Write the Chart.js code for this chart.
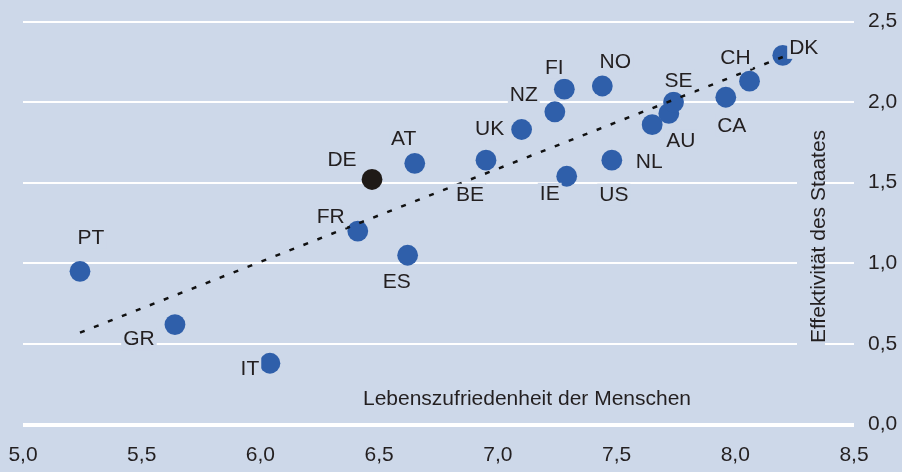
<!DOCTYPE html>
<html>
  <head>
    <meta charset="utf-8" />
    <script src="https://cdn.jsdelivr.net/npm/chart.js"></script>
    <style>
      body {
        margin: 0;
        background: #cdd8e9;
      }
    </style>
  </head>
  <body>
    <canvas id="scatterChart" width="902" height="472"></canvas>
    <script>
      // values
      const countries = ["PT", "GR", "IT", "ES", "FR", "DE", "AT", "BE", "UK", "NZ",
        "FI", "IE", "NO", "US", "NL", "AU", "SE", "CA", "CH", "DK"];
      const lifeSatisfaction = [5.24, 5.64, 6.04, 6.62, 6.41, 6.47, 6.65, 6.95, 7.1, 7.24,
        7.28, 7.29, 7.44, 7.48, 7.65, 7.72, 7.74, 7.96, 8.06, 8.2];
      const stateEffectiveness = [0.95, 0.62, 0.38, 1.05, 1.2, 1.52, 1.62, 1.64, 1.83, 1.94,
        2.08, 1.54, 2.1, 1.64, 1.86, 1.93, 2.0, 2.03, 2.13, 2.29];
      const trendX = [5.24, 8.2];
      const trendY = [0.57, 2.28];
      const highlighted = "DE";

      const xTitle = "Lebenszufriedenheit der Menschen";
      const yTitle = "Effektivität des Staates";

      // where each country label sits relative to its dot (px)
      const labelOffset = {
        PT: [11, -35], GR: [-36, 13], IT: [-20, 4], ES: [-11, 25], FR: [-27, -16],
        DE: [-30, -21], AT: [-11, -26], BE: [-16, 33], UK: [-32, -2], NZ: [-31, -18],
        FI: [-10, -23], IE: [-17, 16], NO: [13, -25], US: [2, 33], NL: [-3, 36],
        AU: [12, 26], SE: [5, -23], CA: [6, 27], CH: [-14, -25], DK: [21, -9],
      };

      const bg = "#cdd8e9";
      const ink = "#231f20";
      const fontFamily = "'Liberation Sans', Arial, Helvetica, sans-serif";
      const fontSize = 21;
      const comma = (v) => Number(v).toFixed(1).replace(".", ",");

      // text with a background box, baseline placed from the visual centre
      const boxedText = (ctx, text, cx, cy) => {
        const w = ctx.measureText(text).width;
        const base = cy + fontSize * 0.358;
        ctx.fillStyle = bg;
        ctx.fillRect(cx - w / 2 - 2, base - 17, w + 4, 22);
        ctx.fillStyle = ink;
        ctx.fillText(text, cx - w / 2, base);
      };

      const background = {
        id: "background",
        beforeDraw(chart) {
          const ctx = chart.ctx;
          ctx.save();
          ctx.fillStyle = bg;
          ctx.fillRect(0, 0, chart.width, chart.height);
          ctx.restore();
        },
      };

      const labels = {
        id: "labels",
        afterDatasetsDraw(chart) {
          const ctx = chart.ctx;
          const ca = chart.chartArea;
          const meta = chart.getDatasetMeta(1);
          ctx.save();
          ctx.font = `${fontSize}px ${fontFamily}`;
          ctx.textBaseline = "alphabetic";
          countries.forEach((c, i) => {
            const pt = meta.data[i];
            const [dx, dy] = labelOffset[c];
            boxedText(ctx, c, pt.x + dx, pt.y + dy);
          });

          // axis titles sit inside the plot
          boxedText(ctx, xTitle, ca.right - 327, ca.bottom - 27.5);

          ctx.translate(ca.right - 37, ca.top + 215);
          ctx.rotate(-Math.PI / 2);
          const w = ctx.measureText(yTitle).width;
          ctx.fillStyle = bg;
          ctx.fillRect(-w / 2 - 3, -20, w + 6, 28);
          ctx.fillStyle = ink;
          ctx.fillText(yTitle, -w / 2, fontSize * 0.358);
          ctx.restore();
        },
      };

      const points = countries.map((c, i) => ({ x: lifeSatisfaction[i], y: stateEffectiveness[i] }));
      const trend = trendX.map((x, i) => ({ x, y: trendY[i] }));

      new Chart(document.getElementById("scatterChart"), {
        type: "scatter",
        data: {
          datasets: [
            {
              data: trend,
              showLine: true,
              borderColor: "#111111",
              borderWidth: 2.5,
              borderDash: [5, 10],
              pointRadius: 0,
              order: 0,
            },
            {
              data: points,
              pointRadius: 10.4,
              borderWidth: 0,
              backgroundColor: (ctx) =>
                countries[ctx.dataIndex] === highlighted ? "#1f1a17" : "#2f5faa",
              order: 1,
            },
          ],
        },
        options: {
          responsive: false,
          animation: false,
          events: [],
          layout: { autoPadding: false, padding: { left: 23, top: 21.5, right: 0, bottom: 0 } },
          plugins: {
            legend: { display: false },
            tooltip: { enabled: false },
          },
          scales: {
            x: {
              type: "linear",
              min: 5,
              max: 8.5,
              grid: { display: false, drawTicks: false },
              border: { display: false },
              ticks: {
                stepSize: 0.5,
                padding: 18,
                color: ink,
                font: { family: fontFamily, size: fontSize },
                callback: comma,
              },
              afterFit: (scale) => {
                scale.height = 47.5;
                scale.paddingLeft = 0;
                scale.paddingRight = 0;
              },
            },
            y: {
              position: "right",
              min: 0,
              max: 2.5,
              grid: {
                color: "#ffffff",
                drawTicks: false,
                lineWidth: (ctx) => (ctx.tick && ctx.tick.value === 0 ? 4 : 2),
              },
              border: { display: false },
              ticks: {
                stepSize: 0.5,
                padding: 14,
                color: ink,
                font: { family: fontFamily, size: fontSize },
                callback: comma,
              },
              afterFit: (scale) => {
                scale.width = 48;
                scale.paddingTop = 0;
                scale.paddingBottom = 0;
              },
            },
          },
        },
        plugins: [background, labels],
      });
    </script>
  </body>
</html>
